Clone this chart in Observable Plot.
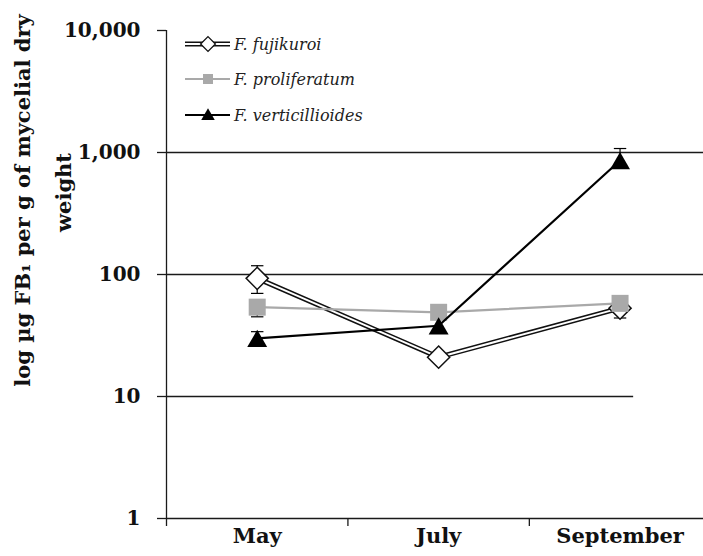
<!DOCTYPE html>
<html>
<head>
<meta charset="utf-8">
<script src="https://cdn.jsdelivr.net/npm/d3@7"></script>
<script src="https://cdn.jsdelivr.net/npm/@observablehq/plot@0.6"></script>
<style>
  html, body { margin: 0; padding: 0; background: #fff; }
  #wrap { position: relative; width: 703px; height: 556px; }
  #wrap svg { position: absolute; left: 0; top: 0; }
</style>
</head>
<body>
<div id="wrap"></div>
<script>
// ---- data ----
const months = ["May", "July", "September"];
const seriesNames = ["F. fujikuroi", "F. proliferatum", "F. verticillioides"];
const fujikuroi = [93, 21, 53];
const proliferatum = [54, 49, 58];
const verticillioides = [30, 38, 860];
// error bars [low, high]; null = not visible
const fujikuroiErr = [[70, 118], null, [44, 61]];
const proliferatumErr = [[45, 60], null, null];
const verticillioidesErr = [[27, 34], null, [760, 1078]];
const yTicks = [1, 10, 100, 1000, 10000];
const gridFull = [100, 1000];
const gridShort = [10];
const titleLines = ["log µg FB₁ per g of mycelial dry", "weight"];

const toRows = (vals) => vals.map((v, i) => ({i, v}));
const toErr = (errs) => errs.map((e, i) => e ? {i, lo: e[0], hi: e[1]} : null).filter(Boolean);

const fRows = toRows(fujikuroi), pRows = toRows(proliferatum), vRows = toRows(verticillioides);
const fErr = toErr(fujikuroiErr), pErr = toErr(proliferatumErr), vErr = toErr(verticillioidesErr);

const gray = "#a9a9a9";
const serif = "'DejaVu Serif', serif";
const capSymbol = { draw(ctx, size) { const w = Math.sqrt(size); ctx.moveTo(-w / 2, 0); ctx.lineTo(w / 2, 0); } };

const errMarks = (rows) => [
  Plot.ruleX(rows, {x: "i", y1: "lo", y2: "hi", stroke: "black", strokeWidth: 1.2}),
  Plot.dot(rows, {x: "i", y: "lo", symbol: capSymbol, r: 7, stroke: "black", strokeWidth: 1.2, fill: "none"}),
  Plot.dot(rows, {x: "i", y: "hi", symbol: capSymbol, r: 7, stroke: "black", strokeWidth: 1.2, fill: "none"})
];

const chart = Plot.plot({
  width: 703,
  height: 556,
  marginLeft: 166,
  marginRight: 0,
  marginTop: 30,
  marginBottom: 38,
  style: {fontFamily: serif, background: "white", overflow: "visible"},
  x: {type: "linear", domain: [-0.5, 2.46], axis: null},
  y: {type: "log", domain: [1, 10000], axis: null},
  marks: [
    // gridlines
    Plot.ruleY(gridFull, {x1: -0.5, x2: 2.46, stroke: "#1a1a1a", strokeWidth: 1.3}),
    Plot.ruleY(gridShort, {x1: -0.5, x2: 2.075, stroke: "#1a1a1a", strokeWidth: 1.3}),
    // y axis
    Plot.axisY({ticks: yTicks, tickFormat: d3.format(","), tickSize: 9, tickPadding: 17, label: null,
      fontSize: 20, fontWeight: "bold", fontFamily: serif, stroke: "#1a1a1a", strokeWidth: 1.3, color: "#111"}),
    Plot.ruleX([-0.5], {y1: 1, y2: 10000, stroke: "#1a1a1a", strokeWidth: 1.3}),
    // x axis
    Plot.ruleY([1], {x1: -0.5, x2: 2.46, stroke: "#1a1a1a", strokeWidth: 1.3}),
    Plot.axisX({ticks: [-0.5, 0.5, 1.5], tickFormat: () => "", tickSize: 8, label: null, stroke: "#1a1a1a", strokeWidth: 1.3}),
    Plot.axisX({ticks: [0, 1, 2], tickFormat: (d) => months[d], tickSize: 0, tickPadding: 10, label: null,
      fontSize: 21, fontWeight: "bold", fontFamily: serif, color: "#111"}),
    // axis title
    Plot.text([titleLines[0]], {frameAnchor: "top-left", dx: -143, dy: 170, rotate: -90,
      textAnchor: "middle", lineAnchor: "middle",
      fontSize: 21, fontWeight: "bold", fontFamily: serif, fill: "#111"}),
    Plot.text([titleLines[1]], {frameAnchor: "top-left", dx: -102, dy: 162, rotate: -90,
      textAnchor: "middle", lineAnchor: "middle",
      fontSize: 21, fontWeight: "bold", fontFamily: serif, fill: "#111"}),
    // F. fujikuroi
    ...errMarks(fErr),
    Plot.line(fRows, {x: "i", y: "v", stroke: "#111", strokeWidth: 5}),
    Plot.line(fRows, {x: "i", y: "v", stroke: "white", strokeWidth: 2}),
    Plot.dot(fRows, {x: "i", y: "v", symbol: "diamond2", r: 10, fill: "white", stroke: "#111", strokeWidth: 1.5}),
    // F. proliferatum
    ...errMarks(pErr),
    Plot.line(pRows, {x: "i", y: "v", stroke: gray, strokeWidth: 2.2}),
    Plot.dot(pRows, {x: "i", y: "v", symbol: "square", r: 9.6, fill: gray, stroke: "none"}),
    // F. verticillioides
    ...errMarks(vErr),
    Plot.line(vRows, {x: "i", y: "v", stroke: "black", strokeWidth: 2.2}),
    Plot.dot(vRows, {x: "i", y: "v", symbol: "triangle", r: 7.4, dy: 3, fill: "black", stroke: "none"})
  ]
});
document.getElementById("wrap").appendChild(chart);

// ---- legend overlay ----
const leg = d3.select("#wrap").append("svg").attr("width", 703).attr("height", 556)
  .style("pointer-events", "none");
const rowsY = [44, 79, 115];
const x0 = 185, x1 = 230, xm = 208;
seriesNames.forEach((name, k) => {
  const g = leg.append("g").attr("transform", `translate(0,${rowsY[k]})`);
  if (k === 0) {
    g.append("line").attr("x1", x0).attr("x2", x1).attr("stroke", "#111").attr("stroke-width", 5);
    g.append("line").attr("x1", x0).attr("x2", x1).attr("stroke", "white").attr("stroke-width", 2);
    g.append("path").attr("d", d3.symbol(d3.symbolDiamond2, 140)()).attr("transform", `translate(${xm},0)`)
      .attr("fill", "white").attr("stroke", "#111").attr("stroke-width", 1.3);
  } else if (k === 1) {
    g.append("line").attr("x1", x0).attr("x2", x1).attr("stroke", gray).attr("stroke-width", 2);
    g.append("path").attr("d", d3.symbol(d3.symbolSquare, 100)()).attr("transform", `translate(${xm},0)`)
      .attr("fill", gray);
  } else {
    g.append("line").attr("x1", x0).attr("x2", x1).attr("stroke", "black").attr("stroke-width", 2);
    g.append("path").attr("d", d3.symbol(d3.symbolTriangle, 80)()).attr("transform", `translate(${xm},1)`)
      .attr("fill", "black");
  }
  g.append("text").attr("x", x1 + 4).attr("y", 5.5).text(name)
    .attr("font-family", serif).attr("font-style", "italic").attr("font-size", 16).attr("fill", "#222");
});
</script>
</body>
</html>
